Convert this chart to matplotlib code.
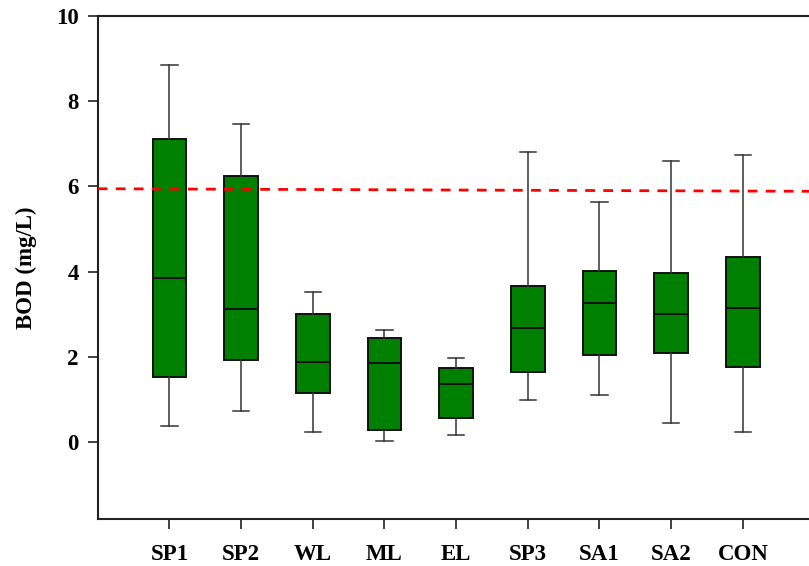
import matplotlib
matplotlib.use("Agg")
import matplotlib.pyplot as plt

# Site names and BOD summary statistics (mg/L)
sites = ["SP1", "SP2", "WL", "ML", "EL", "SP3", "SA1", "SA2", "CON"]
whisker_low = [0.38, 0.73, 0.24, 0.04, 0.16, 0.98, 1.10, 0.46, 0.23]
q1 = [1.53, 1.93, 1.16, 0.28, 0.56, 1.65, 2.05, 2.09, 1.77]
median = [3.85, 3.13, 1.89, 1.86, 1.36, 2.68, 3.27, 3.01, 3.15]
q3 = [7.10, 6.24, 3.01, 2.45, 1.73, 3.65, 4.01, 3.96, 4.34]
whisker_high = [8.84, 7.46, 3.51, 2.63, 1.97, 6.79, 5.63, 6.60, 6.74]

# Guideline level drawn as a dashed red reference line
guide_start = 5.94
guide_end = 5.88

plt.rcParams["font.family"] = ["Liberation Serif", "DejaVu Serif"]
plt.rcParams["font.weight"] = "bold"

fig = plt.figure(figsize=(8.09, 5.66), dpi=100)
ax = fig.add_axes([0.1208, 0.083, 0.886, 0.8896])

stats = []
for name, lo, a, m, b, hi in zip(sites, whisker_low, q1, median, q3, whisker_high):
    stats.append({"label": name, "whislo": lo, "q1": a, "med": m,
                  "q3": b, "whishi": hi, "fliers": []})

positions = list(range(1, len(sites) + 1))
ax.bxp(stats, positions=positions, widths=0.47, patch_artist=True,
       showfliers=False,
       boxprops=dict(facecolor="#008000", edgecolor="#111111", linewidth=1.4),
       medianprops=dict(color="#111111", linewidth=1.4),
       whiskerprops=dict(color="#333333", linewidth=1.1),
       capprops=dict(color="#333333", linewidth=1.1),
       capwidths=0.23)

ax.plot([0, 10], [guide_start, guide_end], color="red", linestyle=(0, (3.5, 3)),
        linewidth=2.0, zorder=5)

ax.set_xlim(0, 10)
ax.set_ylim(-1.8, 10)
ax.set_yticks([0, 2, 4, 6, 8, 10])
ax.set_xticks(positions)
ax.set_xticklabels(sites)

for side in ("left", "top", "bottom"):
    ax.spines[side].set_linewidth(1.5)
    ax.spines[side].set_color("#222222")
ax.spines["right"].set_visible(False)

ax.tick_params(axis="both", direction="out", length=7, width=1.3, color="#333333",
               labelsize=16.5)
ax.tick_params(axis="x", pad=11)
ax.tick_params(axis="y", pad=6.5)
for lbl in ax.get_xticklabels() + ax.get_yticklabels():
    lbl.set_fontweight("bold")

ax.set_ylabel("BOD (mg/L)", fontsize=16.5, fontweight="bold", labelpad=14)

fig.savefig("out.png", dpi=100)
